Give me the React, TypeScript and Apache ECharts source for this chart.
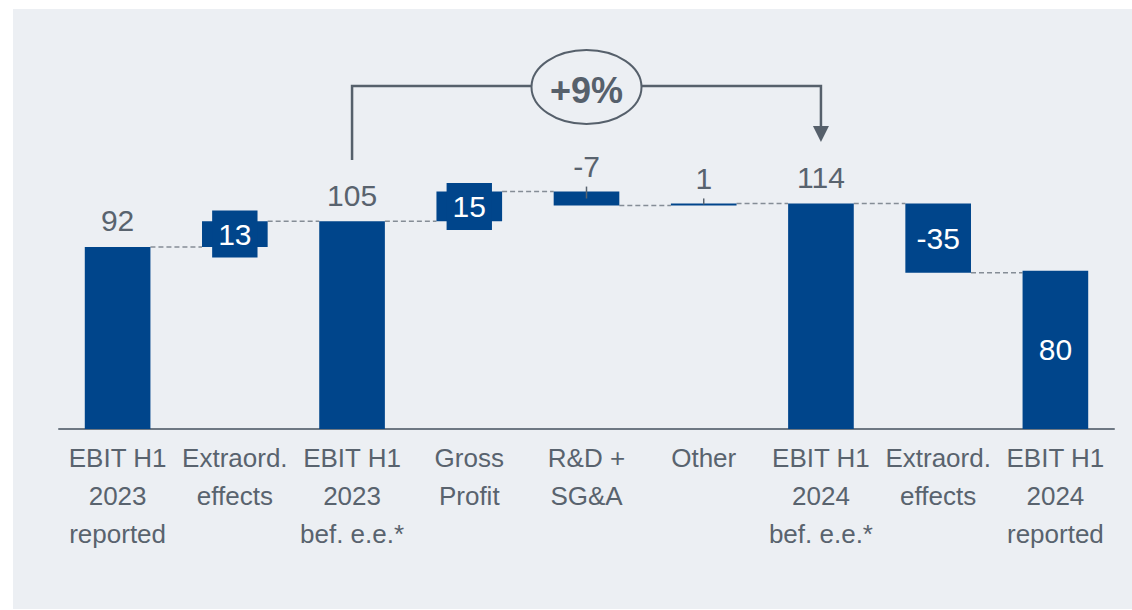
import React, { useEffect, useRef } from "react";
import * as echarts from "echarts";

const categories = [
  "EBIT H1\n2023\nreported",
  "Extraord.\neffects",
  "EBIT H1\n2023\nbef. e.e.*",
  "Gross\nProfit",
  "R&D +\nSG&A",
  "Other",
  "EBIT H1\n2024\nbef. e.e.*",
  "Extraord.\neffects",
  "EBIT H1\n2024\nreported",
];
const values = [92, 13, 105, 15, -7, 1, 114, -35, 80];
const isTotal = [true, false, true, false, false, false, true, false, true];
const valueLabels = ["92", "13", "105", "15", "-7", "1", "114", "-35", "80"];
// label placement style: "top" gray above, "box" white in blue box, "in" white inside
const labelKinds = ["top", "box", "top", "box", "tick", "tick", "top", "in", "in"];
const growthLabel = "+9%";

const BLUE = "#00458B";
const GRAY = "#59636E";
const PANEL = "#ECEFF3";
const FONT = '"Liberation Sans", Arial, Helvetica, sans-serif';

export default function App() {
  const ref = useRef<HTMLDivElement>(null);

  useEffect(() => {
    document.body.style.margin = "0";
    if (!ref.current) return;
    const chart = echarts.init(ref.current, undefined, { renderer: "svg" });

    const bases: number[] = [];
    const heights: number[] = [];
    const starts: number[] = [];
    const ends: number[] = [];
    let level = 0;
    values.forEach((v, i) => {
      if (isTotal[i]) {
        starts.push(0);
        bases.push(0);
        heights.push(v);
        level = v;
        ends.push(level);
      } else {
        const prev = level;
        starts.push(prev);
        level = prev + v;
        ends.push(level);
        bases.push(Math.min(prev, level));
        heights.push(Math.abs(v));
      }
    });

    const connectors = ends.slice(0, -1).map((lv, i) => [i, lv]);
    const ticks = values
      .map((v, i) => (labelKinds[i] === "tick" ? [i, Math.max(starts[i], ends[i]), (starts[i] + ends[i]) / 2] : null))
      .filter((d) => d !== null) as number[][];

    const labelFor = (i: number) => {
      const k = labelKinds[i];
      if (k === "top" || k === "tick")
        return { position: "top", color: GRAY, distance: k === "tick" ? 10 : 11 };
      if (k === "box")
        return {
          position: "inside",
          color: "#fff",
          backgroundColor: BLUE,
          padding: [6, 6, 6, 6],
          lineHeight: 35,
        };
      return { position: "inside", color: "#fff" };
    };

    chart.setOption({
      animation: false,
      textStyle: { fontFamily: FONT },
      grid: { left: 59, right: 18, top: 152, bottom: 181 },
      xAxis: {
        type: "category",
        data: categories,
        axisLine: { lineStyle: { color: "#6E7883", width: 2 } },
        axisTick: { show: false },
        axisLabel: {
          interval: 0,
          fontSize: 26,
          lineHeight: 38,
          color: GRAY,
          margin: 10,
          fontFamily: FONT,
        },
      },
      yAxis: { type: "value", min: 0, max: 140, show: false },
      series: [
        {
          type: "bar",
          stack: "w",
          data: bases,
          barWidth: "56%",
          itemStyle: { color: "transparent" },
          silent: true,
          z: 2,
        },
        {
          type: "bar",
          stack: "w",
          barWidth: "56%",
          itemStyle: { color: BLUE },
          z: 2,
          label: {
            show: true,
            fontSize: 30,
            fontFamily: FONT,
            formatter: (p: any) => valueLabels[p.dataIndex],
          },
          data: heights.map((h, i) => ({ value: h, label: labelFor(i) })),
        },
        {
          type: "custom",
          data: connectors,
          encode: { x: 0, y: 1 },
          z: 1,
          silent: true,
          renderItem: (params: any, api: any) => {
            const i = api.value(0);
            const v = api.value(1);
            const p = api.coord([i, v]);
            const bw = api.size([1, 0])[0];
            const hb = bw * 0.28;
            return {
              type: "line",
              shape: { x1: p[0] + hb, y1: p[1], x2: p[0] + bw - hb, y2: p[1] },
              style: { stroke: "#858D96", lineWidth: 1.5, lineDash: [5, 3] },
            };
          },
        },
        {
          type: "custom",
          data: ticks,
          encode: { x: 0, y: [1, 2] },
          z: 5,
          silent: true,
          renderItem: (params: any, api: any) => {
            const i = api.value(0);
            const top = api.coord([i, api.value(1)]);
            const mid = api.coord([i, api.value(2)]);
            return {
              type: "line",
              shape: { x1: top[0], y1: top[1] - 5, x2: mid[0], y2: mid[1] },
              style: { stroke: GRAY, lineWidth: 1.5 },
            };
          },
        },
      ],
    });

    const fromIdx = 2;
    const toIdx = 6;
    const xFrom = chart.convertToPixel({ xAxisIndex: 0, yAxisIndex: 0 }, [fromIdx, 0])[0];
    const xTo = chart.convertToPixel({ xAxisIndex: 0, yAxisIndex: 0 }, [toIdx, 0])[0];
    const yLine = 86;
    const cx = (xFrom + xTo) / 2;

    chart.setOption({
      graphic: [
        {
          type: "polyline",
          z: 10,
          shape: {
            points: [
              [xFrom, 160],
              [xFrom, yLine],
              [xTo, yLine],
              [xTo, 128],
            ],
          },
          style: { stroke: "#56606B", lineWidth: 2.5, fill: null },
        },
        {
          type: "polygon",
          z: 10,
          shape: {
            points: [
              [xTo - 8, 126],
              [xTo + 8, 126],
              [xTo, 142],
            ],
          },
          style: { fill: "#56606B" },
        },
        {
          type: "ellipse",
          z: 11,
          shape: { cx: cx, cy: 87, rx: 55, ry: 37 },
          style: { fill: PANEL, stroke: "#56606B", lineWidth: 2 },
        },
        {
          type: "text",
          z: 12,
          x: cx,
          y: 90,
          style: {
            text: growthLabel,
            fontSize: 36,
            fontWeight: "bold",
            fontFamily: FONT,
            fill: "#56606B",
            align: "center",
            verticalAlign: "middle",
          },
        },
      ],
    });

    return () => chart.dispose();
  }, []);

  return (
    <div style={{ position: "relative", width: 1132, height: 610, background: "#fff" }}>
      <div
        style={{
          position: "absolute",
          left: 13,
          top: 9,
          width: 1119,
          height: 600,
          background: PANEL,
        }}
      />
      <div ref={ref} style={{ position: "absolute", left: 0, top: 0, width: 1132, height: 610 }} />
    </div>
  );
}
